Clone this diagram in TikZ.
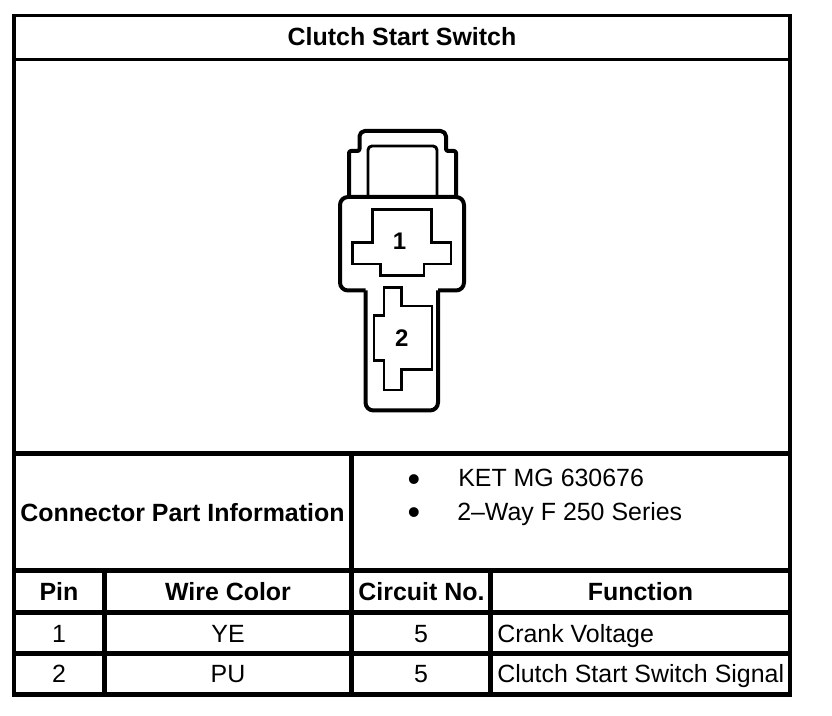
\documentclass[tikz,border=0pt]{standalone}
\usepackage{fontspec}
\setmainfont{Liberation Sans}
\tikzset{
  grid/.style={line width=3.5pt,line cap=butt,black},
  gridthin/.style={line width=2.5pt,line cap=butt,black},
  shell/.style={line width=3pt,line join=round,black},
  thinshell/.style={line width=2.2pt,line join=round,black},
  cavity/.style={line width=2.2pt,line join=miter,black},
  hd/.style={font=\fontsize{18.7}{20}\selectfont\bfseries,anchor=base,inner sep=0pt},
  txt/.style={font=\fontsize{18.7}{20}\selectfont,anchor=base,inner sep=0pt},
  txtl/.style={txt,anchor=base west},
  bul/.style={font=\fontsize{27}{29}\selectfont,anchor=base,inner sep=0pt},
  pin/.style={font=\fontsize{18}{20}\selectfont\bfseries,anchor=base,inner sep=0pt},
}
\begin{document}
\begin{tikzpicture}[x=0.75pt,y=-0.75pt]
\useasboundingbox (0,0) rectangle (832,716);
% table grid
\draw[gridthin] (12,15.5) -- (792,15.5);
\draw[gridthin] (12,59.5) -- (792,59.5);
\draw[grid,line join=miter] (14,14) -- (14,694.5) -- (790,694.5) -- (790,14);
\draw[grid] (14,453.5) -- (790,453.5);
\draw[grid] (14,570.5) -- (790,570.5);
\draw[grid] (14,612.5) -- (790,612.5);
\draw[grid] (14,653.5) -- (790,653.5);
\draw[grid] (351.5,453.5) -- (351.5,694.5);
\draw[grid] (104.5,570.5) -- (104.5,694.5);
\draw[grid] (490.5,570.5) -- (490.5,694.5);
% connector latch
\draw[shell] (349,196) -- (349,153) [rounded corners=1.5pt] -- (349,151) -- (359.5,151) [rounded corners=4pt] -- (359.5,131) -- (446,131) [rounded corners=1.5pt] -- (446,151) -- (456,151) -- (456,196);
\draw[thinshell,rounded corners=3pt] (368,196) -- (368,146) -- (437,146) -- (437,196);
% connector body
\draw[shell,rounded corners=6pt] (365.5,290.5) -- (340,290.5) -- (340,197) -- (464,197) -- (464,290.5) -- (438,290.5);
\draw[shell,rounded corners=6pt] (365.5,290.5) -- (365.5,410.5) -- (438,410.5) -- (438,290.5);
% cavities
\draw[cavity] (372.7,209.3) -- (431.7,209.3) -- (431.7,242.3) -- (451,242.3) -- (451,264) -- (424,264) -- (424,275.7) -- (380.7,275.7) -- (380.7,264) -- (352.7,264) -- (352.7,242.3) -- (372.7,242.3) -- cycle;
\draw[cavity] (384,287.3) -- (401.7,287.3) -- (401.7,306) -- (432,306) -- (432,369.3) -- (401.7,369.3) -- (401.7,390) -- (384,390) -- (384,360.7) -- (374,360.7) -- (374,315.7) -- (384,315.7) -- cycle;
\node[pin] (p1) at (399.5,250) {1};
\node[pin] (p2) at (401.7,347) {2};
% text
\node[hd] (title) at (402,46) {Clutch Start Switch};
\node[hd] (cpi) at (182.5,521) {Connector Part Information};
\node[bul] (b1) at (414,491) {•};
\node[bul] (b2) at (414,524) {•};
\node[txtl] (i1) at (458,487) {KET MG 630676};
\node[txtl] (i2) at (457,520.5) {2–Way F 250 Series};
\node[hd] (hpin) at (59,600) {Pin};
\node[hd] (hwire) at (228,600) {Wire Color};
\node[hd] (hcirc) at (421.5,600) {Circuit No.};
\node[hd] (hfunc) at (640.5,600) {Function};
\node[txt] (r1a) at (59,642) {1};
\node[txt] (r1b) at (228,642) {YE};
\node[txt] (r1c) at (421,642) {5};
\node[txtl] (r1d) at (497,642) {Crank Voltage};
\node[txt] (r2a) at (59,682) {2};
\node[txt] (r2b) at (228,682) {PU};
\node[txt] (r2c) at (421,682) {5};
\node[txtl] (r2d) at (497,682) {Clutch Start Switch Signal};
\end{tikzpicture}
\end{document}
